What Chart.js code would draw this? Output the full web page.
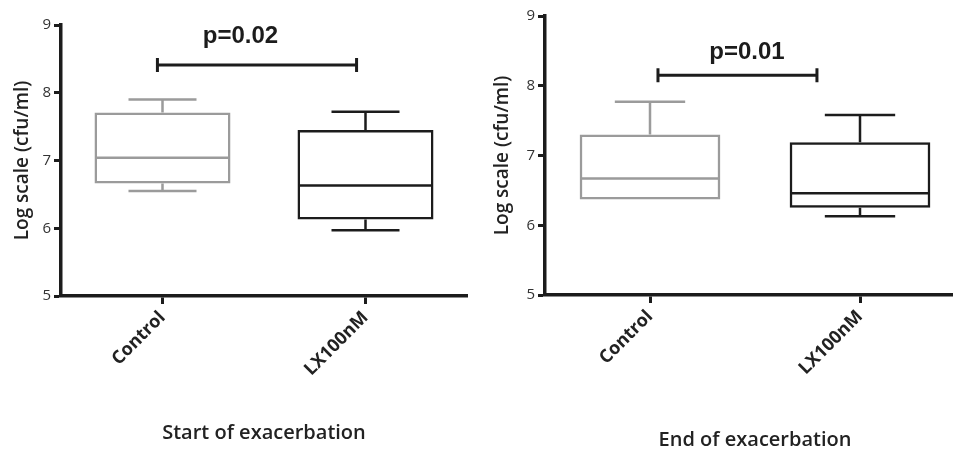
<!doctype html>
<html>
<head>
	<meta charset="utf-8" />
	<title>Chart</title>
	<style>
		html, body { margin: 0; padding: 0; background: #fff; overflow: hidden; }
		#wrap { position: relative; width: 953px; height: 452px; overflow: hidden; }
		.panel { position: absolute; top: 0; }
		canvas { display: block; }
	</style>
	<script src="https://cdn.jsdelivr.net/npm/chart.js@4.4.1/dist/chart.umd.min.js"></script>
</head>
<body>
<div id="wrap">
	<div class="panel" style="left:0"><canvas id="start" width="480" height="452"></canvas></div>
	<div class="panel" style="left:480px"><canvas id="end" width="485" height="452"></canvas></div>
</div>
<script>
	var categories = ['Control', 'LX100nM'];
	var yMin = 5, yMax = 9;

	// each box: [min, q1, median, q3, max]
	var startBoxes = [
		[6.55, 6.66, 7.04, 7.71, 7.90],
		[5.97, 6.13, 6.63, 7.45, 7.72]
	];
	var endBoxes = [
		[6.37, 6.37, 6.67, 7.30, 7.77],
		[6.13, 6.25, 6.46, 7.19, 7.58]
	];
	var startP = 'p=0.02';
	var endP = 'p=0.01';
	var startBracket = 8.41;
	var endBracket = 8.15;

	var boxColors = ['#9b9b9b', '#1c1c1c'];
	var ink = '#1c1c1c';
	var labelFont = '"Open Sans", "DejaVu Sans", sans-serif';

	var boxPlugin = {
		id: 'boxes',
		afterDatasetsDraw: function (chart, args, opts) {
			var ctx = chart.ctx;
			var ys = chart.scales.y, xs = chart.scales.x;
			var meta = chart.getDatasetMeta(0);

			opts.boxes.forEach(function (b, i) {
				var bar = meta.data[i];
				var cx = bar.x, half = bar.width / 2, cap = bar.width * 0.25;
				var pMin = ys.getPixelForValue(b[0]);
				var pQ1 = ys.getPixelForValue(b[1]);
				var pMed = ys.getPixelForValue(b[2]);
				var pQ3 = ys.getPixelForValue(b[3]);
				var pMax = ys.getPixelForValue(b[4]);
				ctx.save();
				ctx.strokeStyle = boxColors[i];
				ctx.lineWidth = 2.5;
				ctx.beginPath();
				ctx.moveTo(cx, pQ3); ctx.lineTo(cx, pMax);
				ctx.moveTo(cx - cap, pMax); ctx.lineTo(cx + cap, pMax);
				if (b[0] < b[1]) {
					ctx.moveTo(cx, pQ1); ctx.lineTo(cx, pMin);
					ctx.moveTo(cx - cap, pMin); ctx.lineTo(cx + cap, pMin);
				}
				ctx.moveTo(cx - half + 1, pMed); ctx.lineTo(cx + half - 1, pMed);
				ctx.stroke();
				ctx.restore();
			});

			// significance bracket
			var x0 = xs.getPixelForValue(0);
			var step = xs.getPixelForValue(1) - x0;
			var bx0 = x0 + opts.from * step, bx1 = x0 + opts.to * step;
			var by = ys.getPixelForValue(opts.bracketY);
			ctx.save();
			ctx.strokeStyle = ink;
			ctx.lineWidth = 3;
			ctx.beginPath();
			ctx.moveTo(bx0, by); ctx.lineTo(bx1, by);
			ctx.moveTo(bx0, by - 7); ctx.lineTo(bx0, by + 7);
			ctx.moveTo(bx1, by - 7); ctx.lineTo(bx1, by + 7);
			ctx.stroke();
			ctx.fillStyle = ink;
			ctx.font = 'bold 24px "Liberation Sans", Arial, sans-serif';
			ctx.textAlign = 'center';
			ctx.textBaseline = 'middle';
			ctx.fillText(opts.label, x0 + opts.textAt * step, by - opts.textGap);
			ctx.restore();
		}
	};

	function makePanel(id, boxes, p, bracketY, title, layout) {
		var ranges = boxes.map(function (b) { return [b[1], b[3]]; });
		return new Chart(document.getElementById(id), {
			type: 'bar',
			data: {
				labels: categories,
				datasets: [{
					data: ranges,
					backgroundColor: 'rgba(0,0,0,0)',
					borderColor: boxColors,
					borderWidth: 2.5,
					borderSkipped: false,
					barPercentage: 0.67,
					categoryPercentage: 1
				}]
			},
			options: {
				responsive: false,
				animation: false,
				layout: { padding: { left: 0, top: layout.top, right: layout.right, bottom: 0 } },
				plugins: {
					legend: { display: false },
					tooltip: { enabled: false },
					boxes: {
						boxes: boxes, label: p, bracketY: bracketY,
						from: layout.from, to: layout.to, textAt: layout.textAt, textGap: layout.textGap
					}
				},
				scales: {
					x: {
						grid: { offset: false, drawOnChartArea: false, drawTicks: true, tickLength: 8, tickWidth: 3, tickColor: ink },
						border: { color: ink, width: 3.5 },
						ticks: { maxRotation: 45, minRotation: 45, padding: 3, color: '#222', font: { family: labelFont, size: 18, weight: 'bold' } },
						title: { display: true, text: title, color: '#222', font: { family: labelFont, size: 20, weight: '600' }, padding: { top: 0, bottom: layout.titleBottom } },
						afterFit: function (scale) { scale.height = layout.xHeight; }
					},
					y: {
						min: yMin, max: yMax,
						grid: { drawOnChartArea: false, drawTicks: true, tickLength: 7, tickWidth: 3, tickColor: ink },
						border: { color: ink, width: 3.5 },
						ticks: { stepSize: 1, padding: 3, color: '#333', font: { family: labelFont, size: 15 } },
						title: { display: true, text: 'Log scale (cfu/ml)', color: '#222', font: { family: labelFont, size: 19, weight: '600' }, padding: { top: 11, bottom: 0 } },
						afterFit: function (scale) { scale.width = layout.yWidth; }
					}
				}
			},
			plugins: [boxPlugin]
		});
	}

	makePanel('start', startBoxes, startP, startBracket, 'Start of exacerbation', {
		top: 25, right: 13, yWidth: 61, xHeight: 156, titleBottom: 7,
		from: -0.025, to: 0.956, textAt: 0.384, textGap: 29
	});
	makePanel('end', endBoxes, endP, endBracket, 'End of exacerbation', {
		top: 16, right: 0, yWidth: 65, xHeight: 157, titleBottom: 0,
		from: 0.038, to: 0.795, textAt: 0.462, textGap: 23
	});
</script>
</body>
</html>
